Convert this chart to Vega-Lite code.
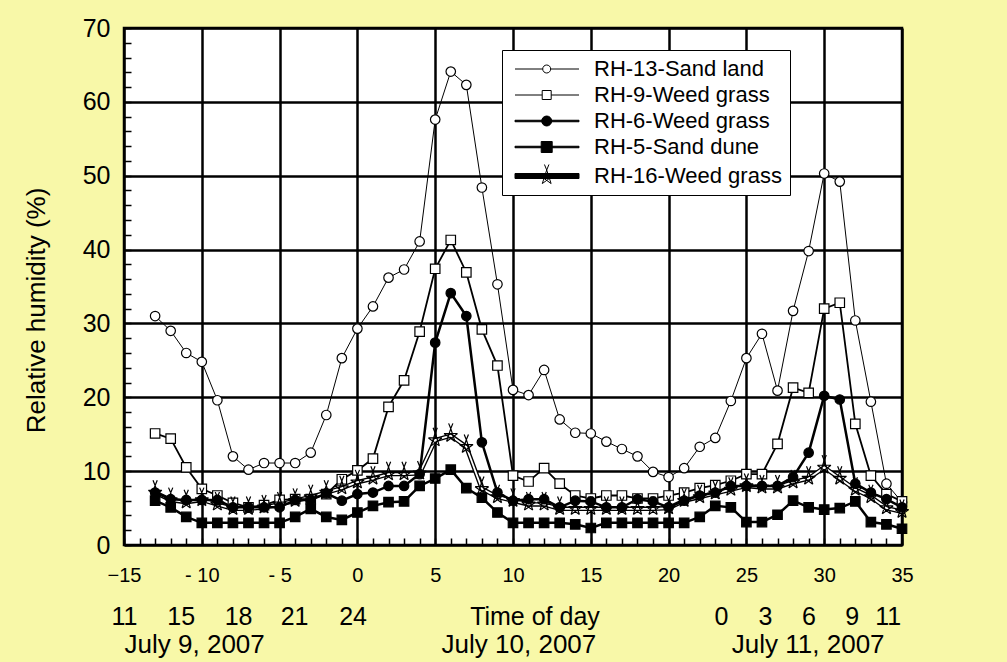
{
"$schema": "https://vega.github.io/schema/vega-lite/v6.json",
"width": 778, "height": 517,
"autosize": {"type": "none"},
"padding": {"left": 124, "top": 28, "right": 105, "bottom": 117},
"background": "#F8F8A8",
"config": {
  "view": {"fill": "white", "stroke": "black", "strokeWidth": 2.5},
  "font": "Liberation Sans",
  "axis": {"labelFont": "Liberation Sans", "titleFont": "Liberation Sans", "labelColor": "black", "titleColor": "black", "labelFlush": false, "labelOverlap": false, "labelBound": false, "domain": false, "ticks": false, "grid": false}
},
"data": {"values": [
{"x":-13,"RH-13-Sand land":31.0,"RH-9-Weed grass":15.1,"RH-6-Weed grass":7.1,"RH-5-Sand dune":6.0,"RH-16-Weed grass":7.1},
{"x":-12,"RH-13-Sand land":29.0,"RH-9-Weed grass":14.4,"RH-6-Weed grass":6.2,"RH-5-Sand dune":5.1,"RH-16-Weed grass":6.1},
{"x":-11,"RH-13-Sand land":26.0,"RH-9-Weed grass":10.5,"RH-6-Weed grass":6.1,"RH-5-Sand dune":3.8,"RH-16-Weed grass":5.8},
{"x":-10,"RH-13-Sand land":24.8,"RH-9-Weed grass":7.6,"RH-6-Weed grass":6.1,"RH-5-Sand dune":3.0,"RH-16-Weed grass":6.1},
{"x":-9,"RH-13-Sand land":19.6,"RH-9-Weed grass":6.7,"RH-6-Weed grass":6.1,"RH-5-Sand dune":3.0,"RH-16-Weed grass":5.5},
{"x":-8,"RH-13-Sand land":12.0,"RH-9-Weed grass":5.7,"RH-6-Weed grass":5.1,"RH-5-Sand dune":3.0,"RH-16-Weed grass":4.9},
{"x":-7,"RH-13-Sand land":10.2,"RH-9-Weed grass":5.1,"RH-6-Weed grass":5.1,"RH-5-Sand dune":3.0,"RH-16-Weed grass":4.9},
{"x":-6,"RH-13-Sand land":11.1,"RH-9-Weed grass":5.4,"RH-6-Weed grass":5.1,"RH-5-Sand dune":3.0,"RH-16-Weed grass":5.1},
{"x":-5,"RH-13-Sand land":11.1,"RH-9-Weed grass":6.1,"RH-6-Weed grass":5.1,"RH-5-Sand dune":3.0,"RH-16-Weed grass":5.5},
{"x":-4,"RH-13-Sand land":11.1,"RH-9-Weed grass":6.2,"RH-6-Weed grass":6.1,"RH-5-Sand dune":3.8,"RH-16-Weed grass":6.0},
{"x":-3,"RH-13-Sand land":12.5,"RH-9-Weed grass":6.2,"RH-6-Weed grass":6.1,"RH-5-Sand dune":4.9,"RH-16-Weed grass":6.5},
{"x":-2,"RH-13-Sand land":17.6,"RH-9-Weed grass":6.9,"RH-6-Weed grass":7.0,"RH-5-Sand dune":3.8,"RH-16-Weed grass":7.1},
{"x":-1,"RH-13-Sand land":25.3,"RH-9-Weed grass":8.9,"RH-6-Weed grass":6.0,"RH-5-Sand dune":3.4,"RH-16-Weed grass":7.7},
{"x":0,"RH-13-Sand land":29.3,"RH-9-Weed grass":10.1,"RH-6-Weed grass":6.9,"RH-5-Sand dune":4.4,"RH-16-Weed grass":8.5},
{"x":1,"RH-13-Sand land":32.3,"RH-9-Weed grass":11.7,"RH-6-Weed grass":7.1,"RH-5-Sand dune":5.3,"RH-16-Weed grass":9.0},
{"x":2,"RH-13-Sand land":36.2,"RH-9-Weed grass":18.7,"RH-6-Weed grass":8.0,"RH-5-Sand dune":5.8,"RH-16-Weed grass":9.6},
{"x":3,"RH-13-Sand land":37.3,"RH-9-Weed grass":22.3,"RH-6-Weed grass":8.0,"RH-5-Sand dune":5.9,"RH-16-Weed grass":9.6},
{"x":4,"RH-13-Sand land":41.1,"RH-9-Weed grass":28.9,"RH-6-Weed grass":9.6,"RH-5-Sand dune":8.0,"RH-16-Weed grass":9.7},
{"x":5,"RH-13-Sand land":57.6,"RH-9-Weed grass":37.4,"RH-6-Weed grass":27.4,"RH-5-Sand dune":9.0,"RH-16-Weed grass":14.2},
{"x":6,"RH-13-Sand land":64.1,"RH-9-Weed grass":41.3,"RH-6-Weed grass":34.1,"RH-5-Sand dune":10.2,"RH-16-Weed grass":14.8},
{"x":7,"RH-13-Sand land":62.3,"RH-9-Weed grass":36.9,"RH-6-Weed grass":31.0,"RH-5-Sand dune":7.7,"RH-16-Weed grass":13.3},
{"x":8,"RH-13-Sand land":48.4,"RH-9-Weed grass":29.2,"RH-6-Weed grass":13.9,"RH-5-Sand dune":6.4,"RH-16-Weed grass":7.6},
{"x":9,"RH-13-Sand land":35.3,"RH-9-Weed grass":24.3,"RH-6-Weed grass":7.1,"RH-5-Sand dune":4.4,"RH-16-Weed grass":6.5},
{"x":10,"RH-13-Sand land":21.0,"RH-9-Weed grass":9.4,"RH-6-Weed grass":6.0,"RH-5-Sand dune":3.0,"RH-16-Weed grass":6.0},
{"x":11,"RH-13-Sand land":20.3,"RH-9-Weed grass":8.6,"RH-6-Weed grass":6.2,"RH-5-Sand dune":3.0,"RH-16-Weed grass":5.5},
{"x":12,"RH-13-Sand land":23.7,"RH-9-Weed grass":10.4,"RH-6-Weed grass":6.2,"RH-5-Sand dune":3.0,"RH-16-Weed grass":5.5},
{"x":13,"RH-13-Sand land":17.0,"RH-9-Weed grass":8.3,"RH-6-Weed grass":5.1,"RH-5-Sand dune":3.0,"RH-16-Weed grass":4.9},
{"x":14,"RH-13-Sand land":15.2,"RH-9-Weed grass":6.7,"RH-6-Weed grass":6.0,"RH-5-Sand dune":2.8,"RH-16-Weed grass":4.9},
{"x":15,"RH-13-Sand land":15.1,"RH-9-Weed grass":6.3,"RH-6-Weed grass":5.9,"RH-5-Sand dune":2.3,"RH-16-Weed grass":4.9},
{"x":16,"RH-13-Sand land":14.0,"RH-9-Weed grass":6.7,"RH-6-Weed grass":5.1,"RH-5-Sand dune":3.0,"RH-16-Weed grass":4.9},
{"x":17,"RH-13-Sand land":13.0,"RH-9-Weed grass":6.7,"RH-6-Weed grass":5.1,"RH-5-Sand dune":3.0,"RH-16-Weed grass":4.9},
{"x":18,"RH-13-Sand land":12.0,"RH-9-Weed grass":6.3,"RH-6-Weed grass":6.2,"RH-5-Sand dune":3.0,"RH-16-Weed grass":4.9},
{"x":19,"RH-13-Sand land":9.9,"RH-9-Weed grass":6.3,"RH-6-Weed grass":5.9,"RH-5-Sand dune":3.0,"RH-16-Weed grass":4.9},
{"x":20,"RH-13-Sand land":9.2,"RH-9-Weed grass":6.7,"RH-6-Weed grass":5.1,"RH-5-Sand dune":3.0,"RH-16-Weed grass":5.0},
{"x":21,"RH-13-Sand land":10.4,"RH-9-Weed grass":7.1,"RH-6-Weed grass":6.0,"RH-5-Sand dune":3.0,"RH-16-Weed grass":6.0},
{"x":22,"RH-13-Sand land":13.3,"RH-9-Weed grass":7.7,"RH-6-Weed grass":6.7,"RH-5-Sand dune":3.8,"RH-16-Weed grass":6.5},
{"x":23,"RH-13-Sand land":14.5,"RH-9-Weed grass":8.1,"RH-6-Weed grass":7.1,"RH-5-Sand dune":5.3,"RH-16-Weed grass":7.0},
{"x":24,"RH-13-Sand land":19.5,"RH-9-Weed grass":8.7,"RH-6-Weed grass":8.0,"RH-5-Sand dune":5.1,"RH-16-Weed grass":7.5},
{"x":25,"RH-13-Sand land":25.3,"RH-9-Weed grass":9.6,"RH-6-Weed grass":8.0,"RH-5-Sand dune":3.1,"RH-16-Weed grass":8.0},
{"x":26,"RH-13-Sand land":28.6,"RH-9-Weed grass":9.6,"RH-6-Weed grass":8.0,"RH-5-Sand dune":3.1,"RH-16-Weed grass":7.8},
{"x":27,"RH-13-Sand land":20.9,"RH-9-Weed grass":13.7,"RH-6-Weed grass":8.0,"RH-5-Sand dune":4.1,"RH-16-Weed grass":7.8},
{"x":28,"RH-13-Sand land":31.7,"RH-9-Weed grass":21.3,"RH-6-Weed grass":9.2,"RH-5-Sand dune":6.0,"RH-16-Weed grass":8.5},
{"x":29,"RH-13-Sand land":39.8,"RH-9-Weed grass":20.6,"RH-6-Weed grass":12.5,"RH-5-Sand dune":5.1,"RH-16-Weed grass":9.0},
{"x":30,"RH-13-Sand land":50.3,"RH-9-Weed grass":32.0,"RH-6-Weed grass":20.2,"RH-5-Sand dune":4.8,"RH-16-Weed grass":10.5},
{"x":31,"RH-13-Sand land":49.2,"RH-9-Weed grass":32.8,"RH-6-Weed grass":19.7,"RH-5-Sand dune":5.0,"RH-16-Weed grass":9.0},
{"x":32,"RH-13-Sand land":30.4,"RH-9-Weed grass":16.4,"RH-6-Weed grass":8.3,"RH-5-Sand dune":5.9,"RH-16-Weed grass":7.5},
{"x":33,"RH-13-Sand land":19.4,"RH-9-Weed grass":9.4,"RH-6-Weed grass":7.1,"RH-5-Sand dune":3.1,"RH-16-Weed grass":6.5},
{"x":34,"RH-13-Sand land":8.3,"RH-9-Weed grass":6.9,"RH-6-Weed grass":6.2,"RH-5-Sand dune":2.8,"RH-16-Weed grass":5.0},
{"x":35,"RH-13-Sand land":5.8,"RH-9-Weed grass":5.9,"RH-6-Weed grass":5.1,"RH-5-Sand dune":2.2,"RH-16-Weed grass":4.5}
]},
"transform": [{"fold": ["RH-13-Sand land","RH-9-Weed grass","RH-6-Weed grass","RH-5-Sand dune","RH-16-Weed grass"], "as": ["series","v"]}],
"resolve": {"scale": {"shape": "independent", "fill": "independent", "stroke": "independent"}, "axis": {"x": "independent", "y": "independent"}},
"layer": [
{
  "transform": [{"filter": {"field": "series", "equal": "RH-16-Weed grass"}}],
  "mark": {"type": "line", "stroke": "black", "strokeWidth": 4.5},
  "encoding": {
    "x": {"field": "x", "type": "quantitative", "scale": {"domain": [-15, 35], "nice": false, "zero": false},
      "axis": {"orient": "bottom", "values": [-15,-10,-5,0,5,10,15,20,25,30,35], "grid": true, "gridColor": "black", "gridWidth": 2.5, "gridOpacity": 1, "tickSize": 0, "labelFontSize": 20, "labelPadding": 20, "labelExpr": "datum.value == -15 ? '−15' : datum.value < 0 ? '- ' + abs(datum.value) : datum.label", "title": null}},
    "y": {"field": "v", "type": "quantitative", "scale": {"domain": [0, 70], "nice": false},
      "axis": {"orient": "left", "values": [0,10,20,30,40,50,60,70], "grid": true, "gridColor": "black", "gridWidth": 2.5, "gridOpacity": 1, "tickSize": 0, "labelFontSize": 25, "labelPadding": 14, "title": "Relative humidity (%)", "titleFontSize": 26, "titleFontWeight": "normal", "titleX": -88, "titleY": 282, "titleBaseline": "middle", "titleAngle": -90, "titleAlign": "center"}}
  }
},
{
  "transform": [{"filter": {"field": "series", "equal": "RH-16-Weed grass"}}],
  "mark": {"type": "line", "stroke": "white", "strokeWidth": 1.8},
  "encoding": {
    "x": {"field": "x", "type": "quantitative", "scale": {"domain": [-15, 35], "nice": false, "zero": false}, "axis": null},
    "y": {"field": "v", "type": "quantitative", "scale": {"domain": [0, 70], "nice": false}, "axis": null}
  }
},
{
  "transform": [{"filter": {"field": "series", "equal": "RH-5-Sand dune"}}],
  "mark": {"type": "line", "stroke": "black", "strokeWidth": 2.5},
  "encoding": {
    "x": {"field": "x", "type": "quantitative", "scale": {"domain": [-15, 35], "nice": false, "zero": false}, "axis": null},
    "y": {"field": "v", "type": "quantitative", "scale": {"domain": [0, 70], "nice": false}, "axis": null}
  }
},
{
  "transform": [{"filter": {"field": "series", "equal": "RH-6-Weed grass"}}],
  "mark": {"type": "line", "stroke": "black", "strokeWidth": 2.5},
  "encoding": {
    "x": {"field": "x", "type": "quantitative", "scale": {"domain": [-15, 35], "nice": false, "zero": false}, "axis": null},
    "y": {"field": "v", "type": "quantitative", "scale": {"domain": [0, 70], "nice": false}, "axis": null}
  }
},
{
  "transform": [{"filter": {"field": "series", "equal": "RH-9-Weed grass"}}],
  "mark": {"type": "line", "stroke": "black", "strokeWidth": 1.8},
  "encoding": {
    "x": {"field": "x", "type": "quantitative", "scale": {"domain": [-15, 35], "nice": false, "zero": false}, "axis": null},
    "y": {"field": "v", "type": "quantitative", "scale": {"domain": [0, 70], "nice": false}, "axis": null}
  }
},
{
  "transform": [{"filter": {"field": "series", "equal": "RH-13-Sand land"}}],
  "mark": {"type": "line", "stroke": "black", "strokeWidth": 1},
  "encoding": {
    "x": {"field": "x", "type": "quantitative", "scale": {"domain": [-15, 35], "nice": false, "zero": false}, "axis": null},
    "y": {"field": "v", "type": "quantitative", "scale": {"domain": [0, 70], "nice": false}, "axis": null}
  }
},
{
  "mark": {"type": "point", "stroke": "black", "strokeWidth": 1.2, "size": 90, "opacity": 1},
  "encoding": {
    "x": {"field": "x", "type": "quantitative", "scale": {"domain": [-15, 35], "nice": false, "zero": false}, "axis": null},
    "y": {"field": "v", "type": "quantitative", "scale": {"domain": [0, 70], "nice": false}, "axis": null},
    "shape": {"field": "series", "type": "nominal", "legend": null, "scale": {"domain": ["RH-13-Sand land","RH-9-Weed grass","RH-6-Weed grass","RH-5-Sand dune","RH-16-Weed grass"], "range": ["circle","square","circle","square","M0,-1.5L-0.88,1.21M0,-1.5L0.88,1.21M-1.43,-0.46L1.43,-0.46M-1.43,-0.46L0.88,1.21M1.43,-0.46L-0.88,1.21M-0.45,-2.6L0,-1.5M0.45,-2.6L0,-1.5"]}},
    "fill": {"field": "series", "type": "nominal", "legend": null, "scale": {"domain": ["RH-13-Sand land","RH-9-Weed grass","RH-6-Weed grass","RH-5-Sand dune","RH-16-Weed grass"], "range": ["white","white","black","black","transparent"]}}
  }
},
{
  "transform": [{"filter": "false"}],
  "mark": {"type": "point"},
  "encoding": {
    "x": {"field": "x", "type": "quantitative", "scale": {"domain": [-15, 35], "nice": false, "zero": false},
      "axis": {"orient": "bottom", "values": [-15,-14,-13,-12,-11,-10,-9,-8,-7,-6,-5,-4,-3,-2,-1,0,1,2,3,4,5,6,7,8,9,10,11,12,13,14,15,16,17,18,19,20,21,22,23,24,25,26,27,28,29,30,31,32,33,34,35], "ticks": true, "tickSize": -7, "tickColor": "black", "tickWidth": 1.5, "labels": false, "grid": false, "domain": false, "title": null}},
    "y": {"field": "v", "type": "quantitative", "scale": {"domain": [0, 70], "nice": false},
      "axis": {"orient": "left", "values": [0,2,4,6,8,10,12,14,16,18,20,22,24,26,28,30,32,34,36,38,40,42,44,46,48,50,52,54,56,58,60,62,64,66,68,70], "ticks": true, "tickSize": -7, "tickColor": "black", "tickWidth": 1.5, "labels": false, "grid": false, "domain": false, "title": null}}
  }
},
{
  "transform": [{"filter": "false"}],
  "mark": {"type": "point"},
  "encoding": {
    "x": {"field": "x", "type": "quantitative", "scale": {"domain": [-15, 35], "nice": false, "zero": false},
      "axis": {"orient": "bottom", "offset": 59, "values": [-15,-11.36,-7.67,-4.07,-0.31,11.38,23.36,26.19,28.98,31.77,34.08], "labelExpr": "datum.value == -15 ? '11' : datum.value == -11.36 ? '15' : datum.value == -7.67 ? '18' : datum.value == -4.07 ? '21' : datum.value == -0.31 ? '24' : datum.value == 11.38 ? 'Time of day' : datum.value == 23.36 ? '0' : datum.value == 26.19 ? '3' : datum.value == 28.98 ? '6' : datum.value == 31.77 ? '9' : '11'", "labelFontSize": 25, "labelPadding": 0, "tickSize": 0, "ticks": false, "grid": false, "domain": false, "title": null}}
  }
},
{
  "transform": [{"filter": "false"}],
  "mark": {"type": "point"},
  "encoding": {
    "x": {"field": "x", "type": "quantitative", "scale": {"domain": [-15, 35], "nice": false, "zero": false},
      "axis": {"orient": "bottom", "offset": 86, "values": [-10.49, 10.35, 28.94], "labelExpr": "datum.value < 0 ? 'July 9,  2007' : datum.value < 20 ? 'July 10,  2007' : 'July 11,  2007'", "labelFontSize": 26, "labelPadding": 0, "tickSize": 0, "ticks": false, "grid": false, "domain": false, "title": null}}
  }
},
{
  "transform": [{"filter": "false"}],
  "mark": {"type": "point", "strokeWidth": 1},
  "encoding": {
    "x": {"field": "x", "type": "quantitative", "scale": {"domain": [-15, 35], "nice": false, "zero": false}, "axis": null},
    "y": {"field": "v", "type": "quantitative", "scale": {"domain": [0, 70], "nice": false}, "axis": null},
    "shape": {"field": "series", "type": "nominal",
      "scale": {"domain": ["RH-13-Sand land","RH-9-Weed grass","RH-6-Weed grass","RH-5-Sand dune","RH-16-Weed grass"], "range": [
        "M-1.2,0H4.34M5.94,0H11.6M5.94,0A0.8,0.8,0,1,1,4.34,0A0.8,0.8,0,1,1,5.94,0Z",
        "M-1.2,0H4.24M6.04,0H11.6M4.24,-0.9H6.04V0.9H4.24Z",
        "M-1.2,-0.15H11.6V0.15H-1.2ZM6.14,0A1,1,0,1,1,4.14,0A1,1,0,1,1,6.14,0Z",
        "M-1.2,-0.15H11.6V0.15H-1.2ZM4.04,-1.1H6.24V1.1H4.04Z",
        "M-1.2,-0.5H11.6V0.5H-1.2ZM5.14,-1.2L4.26,1.51M5.14,-1.2L6.02,1.51M3.71,-0.16L6.57,-0.16M3.71,-0.16L6.02,1.51M6.57,-0.16L4.26,1.51M4.69,-2.3L5.14,-1.2M5.59,-2.3L5.14,-1.2"]},
      "legend": {"orient": "none", "legendX": 378, "legendY": 22, "title": null, "strokeColor": "black", "fillColor": "white", "padding": 8, "labelFont": "Liberation Sans", "labelFontSize": 22, "labelColor": "black", "labelOffset": 62, "rowPadding": 4, "symbolSize": 100, "symbolStrokeWidth": 1, "symbolOpacity": 1, "labelLimit": 400}},
    "fill": {"field": "series", "type": "nominal",
      "scale": {"domain": ["RH-13-Sand land","RH-9-Weed grass","RH-6-Weed grass","RH-5-Sand dune","RH-16-Weed grass"], "range": ["white","white","black","black","black"]},
      "legend": {"orient": "none", "legendX": 378, "legendY": 22, "title": null, "strokeColor": "black", "fillColor": "white", "padding": 8, "labelFont": "Liberation Sans", "labelFontSize": 22, "labelColor": "black", "labelOffset": 62, "rowPadding": 4, "symbolSize": 100, "symbolStrokeWidth": 1, "symbolOpacity": 1, "labelLimit": 400}},
    "stroke": {"field": "series", "type": "nominal",
      "scale": {"domain": ["RH-13-Sand land","RH-9-Weed grass","RH-6-Weed grass","RH-5-Sand dune","RH-16-Weed grass"], "range": ["black","black","black","black","black"]},
      "legend": {"orient": "none", "legendX": 378, "legendY": 22, "title": null, "strokeColor": "black", "fillColor": "white", "padding": 8, "labelFont": "Liberation Sans", "labelFontSize": 22, "labelColor": "black", "labelOffset": 62, "rowPadding": 4, "symbolSize": 100, "symbolStrokeWidth": 1, "symbolOpacity": 1, "labelLimit": 400}}
  }
}
]
}
